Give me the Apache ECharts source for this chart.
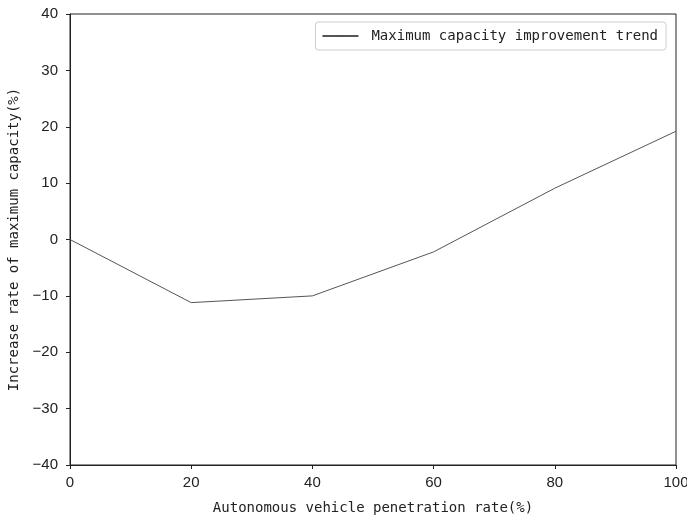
<!DOCTYPE html>
<html>
<head>
<meta charset="utf-8">
<script src="https://cdn.jsdelivr.net/npm/echarts@6/dist/echarts.min.js"></script>
<style>
  html, body { margin: 0; padding: 0; background: #fff; }
  #chart { width: 687px; height: 520px; }
</style>
</head>
<body>
<div id="chart"></div>
<script>
// 数据
var penetration = [0, 20, 40, 60, 80, 100];
var capacityRate = [0, -11.2, -10.0, -2.2, 9.1, 19.2];
var seriesName = 'Maximum capacity improvement trend';
var xTitle = 'Autonomous vehicle penetration rate(%)';
var yTitle = 'Increase rate of maximum capacity(%)';

var monoFont = '"DejaVu Sans Mono", "Liberation Mono", monospace';
var tickFont = '"Liberation Sans", Arial, sans-serif';

// matplotlib 风格的负号
function fmtTick(v) {
    return String(v).replace('-', '\u2212');
}

var chart = echarts.init(document.getElementById('chart'));

var option = {
    animation: false,
    backgroundColor: '#fff',
    grid: {
        left: 70, right: 11, top: 14, bottom: 55,
        outerBoundsMode: 'none',
        containLabel: false,
        show: true, borderColor: '#222', borderWidth: 1
    },
    legend: {
        data: [seriesName],
        right: 21, top: 22,
        itemWidth: 36, itemHeight: 2, itemGap: 8,
        padding: [7, 8, 7, 6],
        borderColor: '#ccc', borderWidth: 1, borderRadius: 3,
        textStyle: { fontFamily: monoFont, fontSize: 14, color: '#222', padding: [0, 0, 0, 8] }
    },
    xAxis: {
        type: 'value',
        min: 0, max: 100, interval: 20,
        name: xTitle,
        nameLocation: 'middle', nameGap: 36,
        nameTextStyle: { fontFamily: monoFont, fontSize: 14, color: '#222' },
        axisLine: { show: true, onZero: false, lineStyle: { color: '#222', width: 1 } },
        axisTick: { show: true, inside: false, length: 4, lineStyle: { color: '#222' } },
        axisLabel: { fontFamily: tickFont, fontSize: 15, color: '#222', margin: 10, formatter: fmtTick },
        splitLine: { show: false }
    },
    yAxis: {
        type: 'value',
        min: -40, max: 40, interval: 10,
        name: yTitle,
        nameLocation: 'middle', nameGap: 45,
        nameTextStyle: { fontFamily: monoFont, fontSize: 14, color: '#222' },
        axisLine: { show: true, onZero: false, lineStyle: { color: '#222', width: 1 } },
        axisTick: { show: true, inside: false, length: 4, lineStyle: { color: '#222' } },
        axisLabel: { fontFamily: tickFont, fontSize: 15, color: '#222', margin: 12, formatter: fmtTick },
        splitLine: { show: false }
    },
    series: [{
        name: seriesName,
        type: 'line',
        data: penetration.map(function(x, i) { return [x, capacityRate[i]]; }),
        symbol: 'none',
        lineStyle: { color: '#555', width: 1 },
        itemStyle: { color: '#555' }
    }]
};

chart.setOption(option);
</script>
</body>
</html>
